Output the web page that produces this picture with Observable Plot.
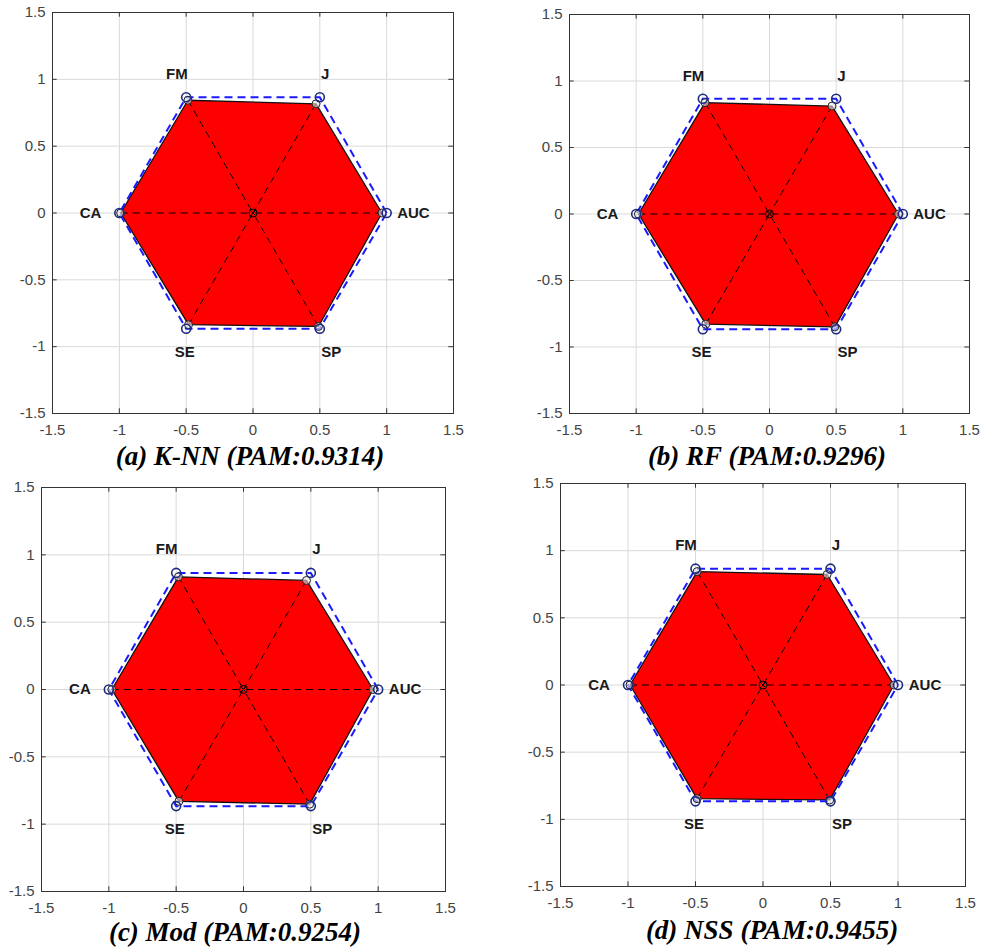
<!DOCTYPE html>
<html>
<head>
<meta charset="utf-8">
<script src="https://cdn.jsdelivr.net/npm/d3@7"></script>
<script src="https://cdn.jsdelivr.net/npm/@observablehq/plot@0.6"></script>
<style>
  html, body { margin: 0; padding: 0; background: #fff; }
  #root { position: relative; width: 982px; height: 951px; overflow: hidden; }
  .panel { position: absolute; }
  .title { position: absolute; width: 480px; text-align: center;
    font-family: "Liberation Serif", "Times New Roman", serif; font-weight: bold; font-style: italic;
    font-size: 27px; color: #000; white-space: nowrap; }
</style>
</head>
<body>
<div id="root"></div>
<script>
// ---- data ----
const metrics = ["AUC", "J", "FM", "CA", "SE", "SP"];
const ticks = [-1.5, -1, -0.5, 0, 0.5, 1, 1.5];
const titles = ["(a) K-NN (PAM:0.9314)", "(b) RF (PAM:0.9296)", "(c) Mod (PAM:0.9254)", "(d) NSS (PAM:0.9455)"];
const knnValues = [0.965, 0.943, 0.974, 0.990, 0.965, 0.980];
const rfValues  = [0.968, 0.937, 0.967, 0.983, 0.956, 0.980];
const modValues = [0.963, 0.935, 0.966, 0.978, 0.959, 0.983];
const nssValues = [0.970, 0.950, 0.975, 0.985, 0.977, 0.988];
const seriesList = [knnValues, rfValues, modValues, nssValues];

// ---- layout / style (positions only) ----
const H = 450;
const layouts = [
  {left: 0,   top: 0,   mL: 52, mR: 27, mT: 12, mB: H - 413, titleX: 10,  titleY: 441},
  {left: 500, top: 0,   mL: 69, mR: 11, mT: 14, mB: H - 413, titleX: 527, titleY: 441},
  {left: 0,   top: 470, mL: 41, mR: 35, mT: 17, mB: H - 421, titleX: -5,  titleY: 917},
  {left: 500, top: 470, mL: 60, mR: 15, mT: 13, mB: H - 416, titleX: 532, titleY: 915}
];
const labelDx = {AUC: 0, J: -8, FM: 4, CA: -2, SE: 12, SP: -2};
const fmt = d => String(d);

const angleOf = i => i * Math.PI / 3;
const root = document.getElementById("root");

seriesList.forEach((vals, k) => {
  const L = layouts[k];
  const pts = metrics.map((m, i) => ({m, x: vals[i] * Math.cos(angleOf(i)), y: vals[i] * Math.sin(angleOf(i))}));
  const poly = [...pts, pts[0]];
  const unit = metrics.map((m, i) => ({m, x: Math.cos(angleOf(i)), y: Math.sin(angleOf(i))}));
  const unitPoly = [...unit, unit[0]];
  const labels = metrics.map((m, i) => ({m, x: 1.2 * Math.cos(angleOf(i)), y: 1.2 * Math.sin(angleOf(i))}));
  const tl = 0.035;

  const chart = Plot.plot({
    width: 480, height: H,
    marginLeft: L.mL, marginRight: L.mR, marginTop: L.mT, marginBottom: L.mB,
    style: {fontFamily: "Liberation Sans, Arial, sans-serif", background: "transparent"},
    x: {domain: [-1.5, 1.5], ticks: ticks, tickFormat: fmt},
    y: {domain: [-1.5, 1.5], ticks: ticks, tickFormat: fmt},
    marks: [
      Plot.gridX(ticks, {stroke: "#d9d9d9", strokeOpacity: 1}),
      Plot.gridY(ticks, {stroke: "#d9d9d9", strokeOpacity: 1}),
      Plot.line(poly, {x: "x", y: "y", fill: "#ff0000", stroke: "#111", strokeWidth: 1.3, curve: "linear"}),
      Plot.link(pts, {x1: "x", y1: "y", x2: () => 0, y2: () => 0, stroke: "#000", strokeWidth: 1, strokeDasharray: "7,5"}),
      Plot.line(unitPoly, {x: "x", y: "y", stroke: "#1a1aff", strokeWidth: 2, strokeDasharray: "8,5", strokeLinecap: "butt"}),
      Plot.dot(pts, {x: "x", y: "y", r: 4, stroke: "#222", fill: "#e8e8e8", fillOpacity: 0.6, strokeWidth: 1}),
      Plot.dot(unit, {x: "x", y: "y", r: 4.5, stroke: "#1c2a80", fill: "none", strokeWidth: 1.6}),
      Plot.dot([{x: 0, y: 0}], {x: "x", y: "y", r: 4, stroke: "#000", fill: "none", strokeWidth: 1}),
      Plot.dot([{x: 0, y: 0}], {x: "x", y: "y", r: 3, symbol: "times", stroke: "#000", strokeWidth: 1}),
      ...metrics.map(m => Plot.text(labels.filter(d => d.m === m), {x: "x", y: "y", text: "m", dx: labelDx[m], fontWeight: "bold", fontSize: 15, fill: "#1a1a1a"})),
      Plot.ruleX(ticks, {x: d => d, y1: -1.5, y2: -1.5 + tl, stroke: "#333"}),
      Plot.ruleX(ticks, {x: d => d, y1: 1.5, y2: 1.5 - tl, stroke: "#333"}),
      Plot.ruleY(ticks, {y: d => d, x1: -1.5, x2: -1.5 + tl, stroke: "#333"}),
      Plot.ruleY(ticks, {y: d => d, x1: 1.5, x2: 1.5 - tl, stroke: "#333"}),
      Plot.frame({stroke: "#333", strokeWidth: 1}),
      Plot.axisX(ticks, {tickSize: 0, tickPadding: 11, fontSize: 15, fill: "#444", label: null, tickFormat: fmt}),
      Plot.axisY(ticks, {tickSize: 0, tickPadding: 7, fontSize: 15, fill: "#444", label: null, tickFormat: fmt})
    ]
  });
  chart.classList.add("panel");
  chart.style.left = L.left + "px";
  chart.style.top = L.top + "px";
  root.appendChild(chart);

  const t = document.createElement("div");
  t.className = "title";
  t.textContent = titles[k];
  t.style.left = L.titleX + "px";
  t.style.top = L.titleY + "px";
  root.appendChild(t);
});
</script>
</body>
</html>
